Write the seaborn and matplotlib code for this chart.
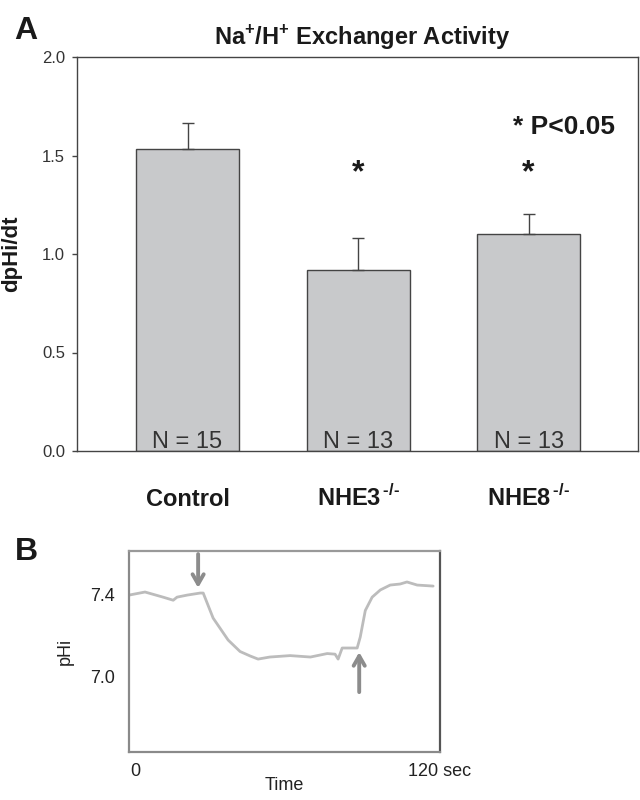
import numpy as np
import pandas as pd
import seaborn as sns
import matplotlib.pyplot as plt

# panel A data
groups = ['Control', 'NHE3$^{\\,\\text{-/-}}$', 'NHE8$^{\\,\\text{-/-}}$']
means = [1.534, 0.92, 1.099]
sems = [0.132, 0.163, 0.106]
n_labels = ['N = 15', 'N = 13', 'N = 13']
signif = [False, True, True]

# panel B trace
trace_t = [-2.4, 3.9, 11, 15, 16.5, 20.5, 25.6, 26.8, 30.7, 36.6, 41.3, 45.3, 48.4,
           53, 61, 69, 75.6, 78.7, 79.9, 81.5, 87.4, 88.6, 90.6, 93.3, 96.5,
           100.4, 104.3, 107, 111, 117.3]
trace_ph = [7.395, 7.41, 7.385, 7.37, 7.385, 7.395, 7.405, 7.405, 7.283, 7.176, 7.12,
            7.098, 7.083, 7.093, 7.10, 7.093, 7.11, 7.107, 7.083, 7.137, 7.137, 7.19,
            7.32, 7.385, 7.42, 7.444, 7.449, 7.459, 7.444, 7.439]
arrow_down = (24.8, 7.595, 7.43)
arrow_up = (88.2, 6.922, 7.117)

sns.set_style('ticks')
plt.rcParams['font.family'] = ['Liberation Sans', 'DejaVu Sans']
plt.rcParams['mathtext.fontset'] = 'custom'
plt.rcParams['mathtext.rm'] = 'Liberation Sans:bold'
plt.rcParams['mathtext.bf'] = 'Liberation Sans:bold'

fig = plt.figure(figsize=(6.4, 8), dpi=100)

# ---- panel A
ax = fig.add_axes([0.1203, 0.43625, 0.8767, 0.4925])
df = pd.DataFrame({'group': groups, 'mean': means})
sns.barplot(data=df, x='group', y='mean', color='#c8c9cb', saturation=1,
            width=0.604, edgecolor='#444444', linewidth=1.0, errorbar=None, ax=ax)
ax.errorbar(range(len(means)), means, yerr=[np.zeros(len(sems)), sems], fmt='none',
            ecolor='#444444', elinewidth=1.0, capsize=4, capthick=1.0)
ax.set_xlim(-0.648, 2.642)
ax.set_ylim(0, 2.0)
ax.set_yticks([0, 0.5, 1.0, 1.5, 2.0])
ax.set_yticklabels(['0.0', '0.5', '1.0', '1.5', '2.0'])
ax.tick_params(axis='y', length=3.6, width=1, color='#444444', labelsize=12,
               labelcolor='#333333', pad=5)
ax.tick_params(axis='x', length=0, pad=39.6)
ax.set_xticks(range(len(groups)))
ax.set_xticklabels(groups, fontsize=17, fontweight='bold', va='baseline', color='#1a1a1a')
ax.set_xlabel('')
ax.set_ylabel('')
for sp in ax.spines.values():
    sp.set_visible(True)
    sp.set_color('#444444')
    sp.set_linewidth(1.0)

for i, lab in enumerate(n_labels):
    ax.text(i, 0.015, lab, ha='center', va='baseline', fontsize=17, color='#333333')
for i, s in enumerate(signif):
    if s:
        ax.text(i, 1.37, '*', ha='center', va='baseline', fontsize=23,
                fontweight='bold', color='#1a1a1a')
ax.text(2.208, 1.61, '* P<0.05', ha='center', va='baseline', fontsize=19,
        fontweight='bold', color='#1a1a1a')

fig.text(0.566, 0.9437, 'Na$^{\\text{+}}$/H$^{\\text{+}}$ Exchanger Activity',
         ha='center', va='baseline', fontsize=17, fontweight='bold', color='#1a1a1a')
fig.text(0.0185, 0.6825, 'dpHi/dt', rotation=90, ha='center', va='center',
         fontsize=16, fontweight='bold', color='#1a1a1a')
fig.text(0.022, 0.951, 'A', ha='left', va='baseline', fontsize=23,
         fontweight='bold', color='#1a1a1a')

# ---- panel B
axb = fig.add_axes([0.2016, 0.06, 0.4859, 0.25125])
sns.lineplot(x=trace_t, y=trace_ph, color='#bcbcbc', linewidth=2.0, ax=axb)
axb.set_xlim(-2.4, 120)
axb.set_ylim(6.63, 7.61)
axb.set_xticks([0, 120])
axb.set_xticklabels(['0', '120 sec'])
axb.set_yticks([7.0, 7.4])
axb.set_yticklabels(['7.0', '7.4'])
axb.tick_params(length=0, labelsize=13, labelcolor='#222222')
axb.tick_params(axis='y', pad=10)
axb.tick_params(axis='x', pad=8)
axb.set_xlabel('Time', fontsize=13, color='#222222', labelpad=-2)
axb.set_ylabel('pHi', fontsize=13, color='#222222', labelpad=12)
for name, sp in axb.spines.items():
    sp.set_visible(True)
    sp.set_color('#8a8a8a')
    sp.set_linewidth(1.6)
axb.spines['right'].set_color('#555555')
axb.spines['top'].set_color('#999999')

for t, y0, y1 in [arrow_down, arrow_up]:
    axb.annotate('', xy=(t, y1), xytext=(t, y0),
                 arrowprops=dict(arrowstyle='->, head_length=0.7, head_width=0.4',
                                 color='#8c8c8c', lw=2.8, shrinkA=0, shrinkB=0))

fig.text(0.023, 0.3, 'B', ha='left', va='baseline', fontsize=23,
         fontweight='bold', color='#1a1a1a')

fig.savefig('out.png', dpi=100)
